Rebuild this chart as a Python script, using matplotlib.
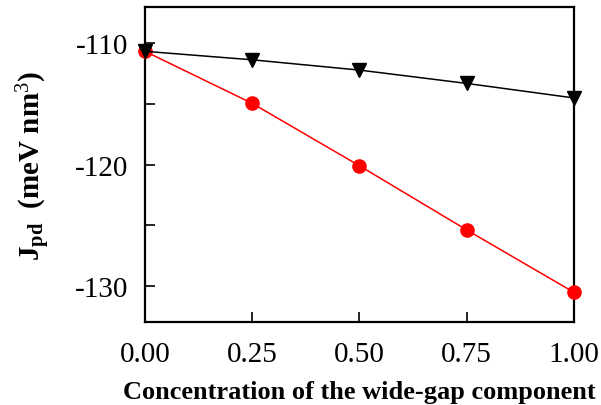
import matplotlib
matplotlib.use("Agg")
import matplotlib.pyplot as plt
from matplotlib.ticker import MultipleLocator

plt.rcParams['font.family'] = ['Liberation Serif', 'DejaVu Serif']
plt.rcParams['mathtext.fontset'] = 'custom'
plt.rcParams['mathtext.rm'] = 'Liberation Serif'
plt.rcParams['mathtext.bf'] = 'Liberation Serif:bold'
plt.rcParams['mathtext.it'] = 'Liberation Serif:italic'
plt.rcParams['axes.unicode_minus'] = False

conc = [0.0, 0.25, 0.5, 0.75, 1.0]
j_black = [-110.65, -111.35, -112.2, -113.3, -114.5]
j_red = [-110.65, -114.95, -120.1, -125.4, -130.55]
xticks = [0.0, 0.25, 0.5, 0.75, 1.0]
xticklabels = ["0.00", "0.25", "0.50", "0.75", "1.00"]

fig = plt.figure(figsize=(6.01, 4.06), dpi=100)
ax = fig.add_axes([0.2413, 0.2044, 0.7137, 0.7756])

ax.plot(conc, j_red, color='red', lw=1.1, marker='o', ms=9.5, zorder=3, clip_on=False)
ax.plot(conc, j_black, color='black', lw=1.1, marker='v', ms=10, zorder=4, clip_on=False)

ax.set_xlim(0, 1)
ax.set_ylim(-133, -107)
ax.set_xticks(xticks)
ax.set_xticklabels(xticklabels)
ax.yaxis.set_major_locator(MultipleLocator(10))
ax.yaxis.set_minor_locator(MultipleLocator(5))
ax.tick_params(axis='both', which='both', direction='in', labelsize=21, width=1.2)
ax.tick_params(axis='both', which='major', length=7)
ax.tick_params(axis='y', which='minor', length=7)
ax.tick_params(axis='x', pad=14)
ax.tick_params(axis='y', pad=12)
for s in ax.spines.values():
    s.set_linewidth(1.6)

ax.set_xlabel("Concentration of the wide-gap component", fontsize=19, fontweight='bold', labelpad=9)
ax.set_ylabel(r"$\mathbf{J_{pd}}$  (meV nm$^{\mathrm{3}}$)", fontsize=21, fontweight='bold', labelpad=16)

fig.savefig("out.png", dpi=100)
